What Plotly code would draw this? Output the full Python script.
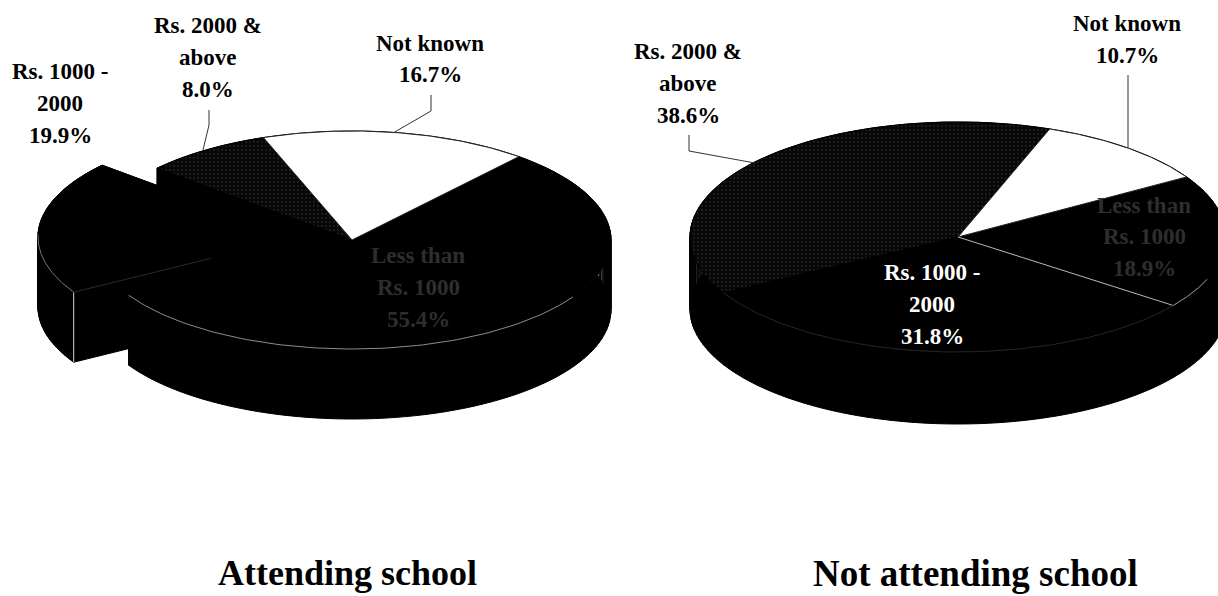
import numpy as np
import plotly.graph_objects as go

categories = ["Not known", "Less than Rs. 1000", "Rs. 1000 - 2000", "Rs. 2000 & above"]
attending = [16.7, 55.4, 19.9, 8.0]
not_attending = [10.7, 18.9, 31.8, 38.6]
titles = ["Attending school", "Not attending school"]
label_lines = {
    "Not known": ["Not known"],
    "Less than Rs. 1000": ["Less than", "Rs. 1000"],
    "Rs. 1000 - 2000": ["Rs. 1000 -", "2000"],
    "Rs. 2000 & above": ["Rs. 2000 &", "above"],
}

W, H = 1218, 596
FONT = "Liberation Serif"

fig = go.Figure()


def angles(values, start):
    edges = [start]
    for v in values:
        edges.append(edges[-1] - v / sum(values) * 360)
    return edges


def arc(c, r, a0, a1, n=90):
    t = np.radians(np.linspace(a0, a1, n))
    return c[0] + r[0] * np.cos(t), c[1] - r[1] * np.sin(t)


def point(c, r, a):
    return c[0] + r[0] * np.cos(np.radians(a)), c[1] - r[1] * np.sin(np.radians(a))


def add_poly(x, y, fill="black", line="black", width=1, pattern=None):
    kw = dict(fillpattern=pattern) if pattern else {}
    fig.add_trace(go.Scatter(x=list(x), y=list(y), mode="lines", fill="toself", fillcolor=fill,
                             line=dict(color=line, width=width), hoverinfo="skip", showlegend=False, **kw))


def add_line(x, y, color="black", width=1):
    fig.add_trace(go.Scatter(x=list(x), y=list(y), mode="lines", line=dict(color=color, width=width),
                             hoverinfo="skip", showlegend=False))


def extrude(c, r, a0, a1, depth):
    ax, ay = arc(c, r, a0, a1)
    # outer wall as short quads, so a long arc never folds over itself
    xs, ys = [], []
    for i in range(len(ax) - 1):
        xs += [ax[i], ax[i + 1], ax[i + 1], ax[i], ax[i], None]
        ys += [ay[i], ay[i + 1], ay[i + 1] + depth, ay[i] + depth, ay[i], None]
    add_poly(xs[:-1], ys[:-1])
    for i in (0, -1):
        add_poly([c[0], ax[i], ax[i], c[0]], [c[1], ay[i], ay[i] + depth, c[1] + depth])


def top(c, r, a0, a1, fill="black", line="black", pattern=None):
    ax, ay = arc(c, r, a0, a1)
    add_poly(np.r_[c[0], ax, c[0]], np.r_[c[1], ay, c[1]], fill=fill, line=line, pattern=pattern)


DOTS = dict(shape=".", bgcolor="#060606", fgcolor="#333333", size=4, solidity=0.25)

# ---- left pie: "Rs. 1000 - 2000" slice pulled out
C1, R1, D1 = (352, 240), (259, 109), 70
SHIFT = (-55, -3)
e = angles(attending, 110)
C1x = (C1[0] + SHIFT[0], C1[1] + SHIFT[1])
extrude(C1x, R1, e[2], e[3], D1)
top(C1x, R1, e[2], e[3])
px, py = point(C1x, R1, e[2])
add_line([px, px], [py, py + D1], "#d8d8d8")
ox, oy = arc(C1x, R1, e[2], e[2] - 32)
add_line(ox, oy, "#777777")
add_line([C1x[0] - 8, px], [C1x[1] + 2, py], "#2a2a2a")
for a0, a1 in ((e[0], e[1]), (e[1], e[2]), (e[3], e[4])):
    extrude(C1, R1, a0, a1, D1)
top(C1, R1, e[1], e[2])
top(C1, R1, e[3], e[4], fill="#060606", pattern=DOTS)
top(C1, R1, e[0], e[1], fill="white", line="#222222")
ox, oy = arc(C1, R1, e[2], e[2] + 118)
add_line(ox, oy, "#8c8c8c")

# ---- right pie
C2, R2, D2 = (958, 237), (268, 115), 72
f = angles(not_attending, 70)
for a0, a1 in zip(f[:-1], f[1:]):
    extrude(C2, R2, a0, a1, D2)
top(C2, R2, f[1], f[2])
top(C2, R2, f[2], f[3])
top(C2, R2, f[3], f[4], fill="#060606", pattern=DOTS)
top(C2, R2, f[0], f[1], fill="white", line="#222222")
px, py = point(C2, R2, f[2])
add_line([C2[0], px], [C2[1], py], "#b8b8b8")
ox, oy = arc(C2, R2, f[2], f[2] + 15)
add_line(ox, oy, "#a0a0a0")
ox, oy = arc(C2, R2, f[3], f[2])
add_line(ox, oy, "#262626")


# ---- labels, each line placed separately for the wide original line spacing
def label(cat, values, x, y, color="black", step=32):
    i = categories.index(cat)
    lines = label_lines[cat] + [f"{values[i]:.1f}%"]
    for k, s in enumerate(lines):
        fig.add_annotation(x=x, y=y + k * step, text=f"<b>{s}</b>", showarrow=False, xref="x", yref="y",
                           xanchor="center", yanchor="middle", font=dict(family=FONT, size=23, color=color))


label("Rs. 1000 - 2000", attending, 60, 71)
label("Rs. 2000 & above", attending, 208, 25)
label("Not known", attending, 430, 43, step=31)
label("Less than Rs. 1000", attending, 418, 255, "#2e2e2e", 32)
label("Rs. 2000 & above", not_attending, 688, 51)
label("Not known", not_attending, 1127, 23)
label("Rs. 1000 - 2000", not_attending, 932, 272, "white")
label("Less than Rs. 1000", not_attending, 1144, 205, "#2e2e2e", 31.5)

for t, x, y, size in zip(titles, (347, 975), (573, 573), (36, 37)):
    fig.add_annotation(x=x, y=y, text=f"<b>{t}</b>", showarrow=False, xref="x", yref="y",
                       font=dict(family=FONT, size=size, color="black"))

# ---- leader lines
leaders = [
    ([431, 431, 393], [95, 111, 133]),
    ([209, 209, 203], [110, 125, 150]),
    ([1128, 1128], [75, 148]),
    ([689, 689, 755], [135, 151, 163]),
]
for lx, ly in leaders:
    add_line(lx, ly, "#333333")

fig.update_layout(
    width=W, height=H, margin=dict(l=0, r=0, t=0, b=0),
    paper_bgcolor="white", plot_bgcolor="white", showlegend=False,
    xaxis=dict(range=[0, W], visible=False, fixedrange=True),
    yaxis=dict(range=[H, 0], visible=False, fixedrange=True),
)
fig.write_html("out.html", config=dict(displayModeBar=False),
               post_script="document.body.style.margin='0';document.body.style.overflow='hidden';")
